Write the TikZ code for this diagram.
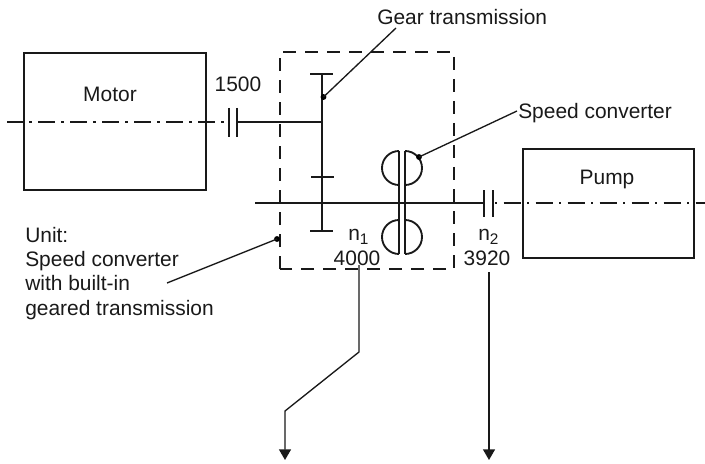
\documentclass[tikz,border=0pt]{standalone}
\usepackage{fontspec}
\setmainfont{Liberation Sans}
\usetikzlibrary{arrows.meta}
\newcommand{\lowidx}[1]{\raisebox{-3.6pt}{\fontsize{11.5}{12}\selectfont #1}}
\tikzset{
  px/.style={x=0.75pt,y=-0.75pt},
  line/.style={draw=black!90,line width=1.4pt},
  thin line/.style={draw=black!90,line width=1pt},
  box/.style={line,rectangle,inner sep=0pt,anchor=north west},
  label/.style={inner sep=0pt,anchor=base,font=\fontsize{15.7}{18.5}\selectfont,text=black!90},
  centre line/.style={draw=black!90,line width=1.3pt},
  dot/.style={circle,fill=black,inner sep=0pt,minimum size=4.4pt},
  unit/.style={draw=black!90,line width=1.6pt,dash pattern=on 10pt off 6.5pt},
  arrow/.style={thin line,-{Triangle[length=8pt,width=9pt]}},
}
\begin{document}
\begin{tikzpicture}[px]
\useasboundingbox (0,0) rectangle (705,463);
\node[box,minimum width=136.5pt,minimum height=102.75pt] (motor) at (23,52) {};
\node[label] at (110,102) {Motor};
\node[box,minimum width=128.25pt,minimum height=81.75pt] (pump) at (522,148) {};
\node[label] at (607,185) {Pump};
\draw[unit] (280,269) rectangle (454,52);
% centre lines
\coordinate (cl1) at (7,122); \coordinate (cl2) at (224,122);
\draw[centre line,dash pattern=on 13pt off 4.6pt on 1.7pt off 4.7pt,dash phase=0.75pt] (cl1) -- (cl2);
\coordinate (cr1) at (495,203); \coordinate (cr2) at (705,203);
\draw[centre line,dash pattern=on 13pt off 4.6pt on 1.7pt off 4.7pt,dash phase=17.6pt] (cr1) -- (cr2);
% couplings and shafts
\draw[line] (229,108) -- (229,137) (237,108) -- (237,137);
\draw[line] (237,122) -- (322,122);
\draw[line] (484,190) -- (484,217) (493,190) -- (493,217);
\draw[line] (255,203) -- (484,203);
% gears
\draw[line] (322,74) -- (322,231);
\draw[line] (310,74) -- (333,74) (311,177) -- (334,177) (310,231) -- (333,231);
% converter
\draw[line] (399,151) -- (399,254) (405,151) -- (405,254);
\draw[line] (399,151) arc[start angle=-90,end angle=-270,x radius=17,y radius=17];
\draw[line] (405,151) arc[start angle=-90,end angle=90,x radius=17,y radius=17];
\draw[line] (399,220) arc[start angle=-90,end angle=-270,x radius=17,y radius=17];
\draw[line] (405,220) arc[start angle=-90,end angle=90,x radius=17,y radius=17];
% labels and leaders
\node[label,anchor=base west] (gt) at (377,25) {Gear transmission};
\node[label,anchor=base west] (sc) at (518,119) {Speed converter};
\node[label] at (238,92) {1500};
\node[label,anchor=base west] at (25,242) {Unit:};
\node[label,anchor=base west] at (25,266) {Speed converter};
\node[label,anchor=base west] at (25,290) {with built-in};
\node[label,anchor=base west] (un) at (25,315) {geared transmission};
\node[dot] (d1) at (323.5,97) {};
\node[dot] (d2) at (419,157) {};
\node[dot] (d3) at (277,239) {};
\coordinate (l1) at (396,28);
\coordinate (l2) at (517,111);
\coordinate (l3) at (167,283);
\draw[thin line] (d1.center) -- (l1);
\draw[thin line] (d2.center) -- (l2);
\draw[thin line] (d3.center) -- (l3);
\node[label,anchor=base west] at (348,240) {n\lowidx{1}};
\node[label] at (357,265) {4000};
\node[label,anchor=base west] at (478,240) {n\lowidx{2}};
\node[label] at (487,265) {3920};
% outlets
\coordinate (a1) at (359,265); \coordinate (a2) at (359,352); \coordinate (a3) at (285,411); \coordinate (a4) at (285,460);
\draw[arrow] (a1) -- (a2) -- (a3) -- (a4);
\coordinate (b1) at (489,272); \coordinate (b2) at (489,460);
\draw[arrow] (b1) -- (b2);
\end{tikzpicture}
\end{document}
